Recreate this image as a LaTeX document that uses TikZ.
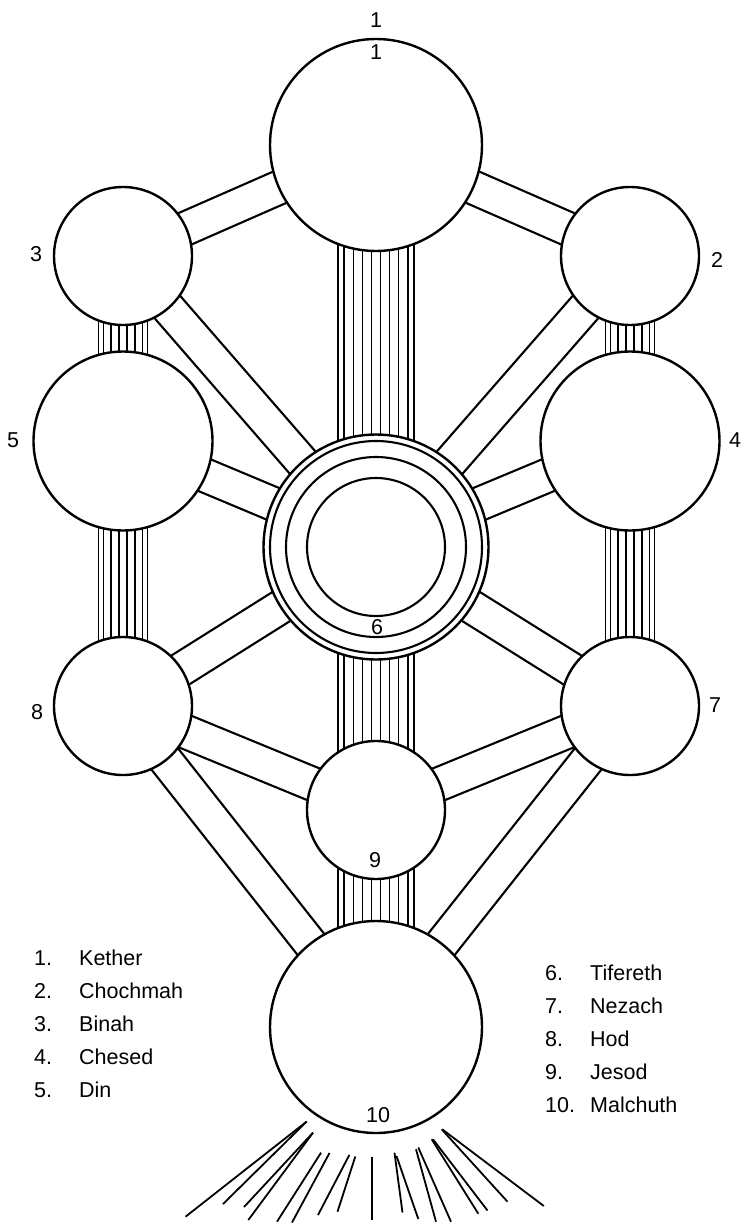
\documentclass[tikz,border=0pt]{standalone}
\usepackage{fontspec}
\setmainfont{Liberation Sans}
\usetikzlibrary{calc}
\pgfdeclarelayer{back}
\pgfsetlayers{back,main}
% two parallel lines between two sefirot
\newcommand{\band}[2]{%
  \draw[band] ($(#1)!17pt!90:(#2)$) -- ($(#2)!17pt!-90:(#1)$);
  \draw[band] ($(#1)!17pt!-90:(#2)$) -- ($(#2)!17pt!90:(#1)$);}
% vertical hatched channel between two sefirot
\newcommand{\bars}[3]{%
  \foreach \dx in {#3} \draw[bar] ([xshift=\dx pt]#1.center) -- ([xshift=\dx pt]#2.center);}

\begin{document}
\begin{tikzpicture}[x=1pt,y=-1pt,
  every node/.style={font=\fontsize{21.5}{26}\selectfont,inner sep=0pt},
  sefira/.style={circle,draw,line width=2.4pt,fill=white},
  small/.style={sefira,minimum size=138pt},
  mid/.style={sefira,minimum size=179pt},
  big/.style={sefira,minimum size=212pt},
  ring/.style={line width=2.1pt},
  band/.style={line width=2.1pt},
  bar/.style={line width=1.8pt},
  ray/.style={line width=1.8pt},
  entry/.style={anchor=base west}
]
\useasboundingbox (0,0) rectangle (743,1223);

\node[big] (kether) at (376,145) {};
\node[small] (chochmah) at (630,256) {};
\node[small] (binah) at (123,256) {};
\node[mid] (chesed) at (630,441) {};
\node[mid] (din) at (123,441) {};
\node[sefira,minimum size=225pt] (tifereth) at (376,547) {};
\node[small] (nezach) at (630,706) {};
\node[small] (hod) at (123,706) {};
\node[small] (jesod) at (376,810) {};
\node[big] (malchuth) at (376,1027) {};
\draw[ring] (tifereth.center) circle[radius=106pt];
\draw[ring] (tifereth.center) circle[radius=90pt];
\draw[ring] (tifereth.center) circle[radius=69pt];

\begin{pgfonlayer}{back}
\fill[white] (0,0) rectangle (743,1223);
\band{kether}{binah}
\band{kether}{chochmah}
\band{binah}{tifereth}
\band{chochmah}{tifereth}
\band{din}{tifereth}
\band{chesed}{tifereth}
\band{tifereth}{hod}
\band{tifereth}{nezach}
\band{hod}{jesod}
\band{nezach}{jesod}
\band{hod}{malchuth}
\band{nezach}{malchuth}
\bars{kether}{tifereth}{-38,-32,-22.5,-13.5,-4.5,4.5,13.5,22.5,32,38}
\bars{tifereth}{jesod}{-38,-32,-22.5,-13.5,-4.5,4.5,13.5,22.5,32,38}
\bars{jesod}{malchuth}{-38,-32,-22.5,-13.5,-4.5,4.5,13.5,22.5,32,38}
\bars{binah}{din}{-24.5,-19.5,-12,-4,4,12,19.5,24.5}
\bars{din}{hod}{-24.5,-19.5,-12,-4,4,12,19.5,24.5}
\bars{chochmah}{chesed}{-24.5,-19.5,-12,-4,4,12,19.5,24.5}
\bars{chesed}{nezach}{-24.5,-19.5,-12,-4,4,12,19.5,24.5}
\end{pgfonlayer}

% rays under Malchuth
\foreach \a/\b in {
  {(306.7,1121.5)}/{(185.5,1216.7)}, {(306.7,1121.5)}/{(223,1204)},
  {(313,1132.7)}/{(244,1207)}, {(313,1132.7)}/{(248.3,1220)},
  {(321,1152.7)}/{(277,1221.7)}, {(329.5,1153)}/{(292,1222.5)},
  {(349.3,1155)}/{(318,1215)}, {(355.3,1156.5)}/{(337.5,1211.7)},
  {(372,1156.5)}/{(372,1219.5)},
  {(394.5,1152.7)}/{(402.5,1212.5)}, {(396.5,1156)}/{(418.3,1219)},
  {(416,1149.3)}/{(436,1221.7)}, {(418.3,1147.5)}/{(451,1221.7)},
  {(431.7,1139.3)}/{(478.3,1213.7)}, {(433,1139.3)}/{(487.5,1210.5)},
  {(441.7,1129.3)}/{(507.5,1201.7)}, {(442.2,1129.3)}/{(543.8,1206)}}
  \draw[ray] \a -- \b;

\node (num1top) at (376,20) {1};
\node (num1) at (376,52) {1};
\node (num2) at (717,260) {2};
\node (num3) at (36,254) {3};
\node (num4) at (735,440) {4};
\node (num5) at (13,440) {5};
\node (num6) at (377,627) {6};
\node (num7) at (715,705) {7};
\node (num8) at (37,712) {8};
\node (num9) at (375,860) {9};
\node (num10) at (378,1115) {10};

\node[entry] (kether-txt) at (34,965) {\makebox[45pt][l]{1.}Kether};
\node[entry] (chochmah-txt) at (34,998) {\makebox[45pt][l]{2.}Chochmah};
\node[entry] (binah-txt) at (34,1031) {\makebox[45pt][l]{3.}Binah};
\node[entry] (chesed-txt) at (34,1064) {\makebox[45pt][l]{4.}Chesed};
\node[entry] (din-txt) at (34,1097) {\makebox[45pt][l]{5.}Din};
\node[entry] (tifereth-txt) at (545,980) {\makebox[45pt][l]{6.}Tifereth};
\node[entry] (nezach-txt) at (545,1013) {\makebox[45pt][l]{7.}Nezach};
\node[entry] (hod-txt) at (545,1046) {\makebox[45pt][l]{8.}Hod};
\node[entry] (jesod-txt) at (545,1079) {\makebox[45pt][l]{9.}Jesod};
\node[entry] (malchuth-txt) at (545,1112) {\makebox[45pt][l]{10.}Malchuth};
\end{tikzpicture}
\end{document}
